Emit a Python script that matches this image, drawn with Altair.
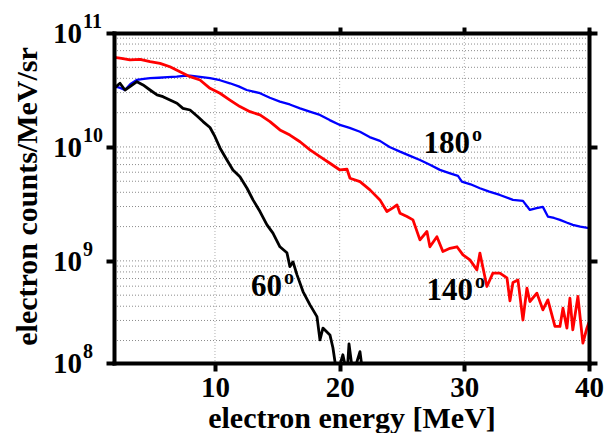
import altair as alt
import pandas as pd

# ---------------- data ----------------
E_180 = [1.95, 2.4, 2.78, 3.2, 3.72, 4.3, 4.79, 5.5, 6.2, 6.93, 7.5, 8.0, 8.8, 9.6, 10.4,
         11.2, 11.9, 12.54, 13.61, 14.4, 15.21, 16.0, 16.82, 17.6, 18.42, 19.2, 20.02,
         20.8, 21.63, 22.4, 23.23, 24.0, 24.84, 25.6, 26.44, 27.2, 28.04, 28.8, 29.49,
         29.8, 30.5, 31.25, 32.0, 32.85, 33.9, 34.7, 35.26, 35.8, 36.3, 36.7, 37.2,
         37.67, 38.2, 38.7, 39.3, 40.0]
C_180 = [3.40e10, 3.30e10, 3.16e10, 3.55e10, 3.87e10, 3.95e10, 4.01e10, 4.05e10, 4.10e10,
         4.14e10, 4.20e10, 4.22e10, 4.12e10, 4.01e10, 3.85e10, 3.62e10, 3.40e10, 3.16e10,
         2.96e10, 2.70e10, 2.50e10, 2.36e10, 2.18e10, 2.04e10, 1.91e10, 1.72e10, 1.56e10,
         1.47e10, 1.36e10, 1.22e10, 1.13e10, 1.00e10, 9.10e9, 8.40e9, 7.69e9, 7.00e9,
         6.29e9, 5.90e9, 5.57e9, 4.96e9, 4.70e9, 4.34e9, 4.05e9, 3.79e9, 3.43e9, 3.36e9,
         2.80e9, 2.90e9, 2.98e9, 2.45e9, 2.38e9, 2.29e9, 2.17e9, 2.07e9, 2.00e9, 1.94e9]

E_140 = [1.95, 2.5, 3.18, 3.99, 4.79, 5.59, 6.39, 7.19, 8.0, 8.8, 9.6, 10.4, 11.2, 12.0,
         12.81, 13.61, 14.41, 15.21, 16.01, 16.82, 17.62, 18.42, 19.22, 20.02, 20.59,
         20.83, 21.63, 22.43, 23.23, 23.79, 24.27, 24.6, 24.84, 25.4, 25.88, 26.44, 27.0,
         27.24, 27.8, 28.28, 28.85, 29.41, 29.89, 30.45, 31.01, 31.25, 31.81, 32.29,
         32.85, 33.42, 33.66, 33.9, 34.3, 34.7, 35.02, 35.26, 35.82, 36.3, 36.7, 37.27,
         37.67, 37.91, 38.23, 38.47, 38.7, 39.11, 39.51, 39.83, 40.0]
C_140 = [6.10e10, 6.00e10, 5.80e10, 5.88e10, 5.60e10, 5.42e10, 5.06e10, 4.58e10, 4.14e10,
         3.87e10, 3.27e10, 2.96e10, 2.58e10, 2.26e10, 2.04e10, 1.91e10, 1.67e10, 1.41e10,
         1.27e10, 1.11e10, 9.41e9, 8.22e9, 7.19e9, 6.28e9, 6.37e9, 5.31e9, 4.96e9, 4.20e9,
         3.43e9, 2.71e9, 2.92e9, 3.10e9, 2.62e9, 2.45e9, 2.29e9, 1.53e9, 1.81e9, 1.33e9,
         1.63e9, 1.21e9, 1.29e9, 1.33e9, 1.13e9, 1.02e9, 8.34e8, 1.17e9, 5.96e8, 7.80e8,
         7.80e8, 7.10e8, 4.46e8, 6.47e8, 6.81e8, 3.03e8, 5.77e8, 4.40e8, 5.21e8, 3.72e8,
         4.55e8, 2.66e8, 2.66e8, 3.85e8, 2.57e8, 4.71e8, 2.48e8, 4.87e8, 1.90e8, 2.57e8,
         2.90e8]

E_60 = [1.95, 2.38, 2.78, 3.18, 3.74, 4.23, 4.79, 5.35, 5.83, 6.39, 6.95, 7.43, 8.0,
        8.56, 9.04, 9.6, 10.0, 10.4, 10.96, 11.44, 12.0, 12.57, 13.05, 13.61, 14.17,
        14.65, 15.21, 15.77, 16.01, 16.26, 16.58, 17.06, 17.62, 18.18, 18.42, 18.66,
        19.22, 19.46, 19.78, 20.26, 20.59, 20.75, 21.07, 21.63, 21.87, 22.5]
C_60 = [3.30e10, 3.62e10, 3.16e10, 3.38e10, 3.74e10, 3.50e10, 3.16e10, 2.86e10, 2.76e10,
        2.58e10, 2.42e10, 2.18e10, 2.11e10, 1.87e10, 1.67e10, 1.48e10, 1.23e10, 9.80e9,
        7.69e9, 6.28e9, 5.48e9, 4.34e9, 3.43e9, 2.71e9, 2.07e9, 1.75e9, 1.33e9, 1.18e9,
        8.91e8, 9.80e8, 7.54e8, 5.38e8, 4.11e8, 3.24e8, 2.03e8, 2.57e8, 2.24e8, 1.73e8,
        1.00e8, 1.50e8, 1.00e8, 1.87e8, 1.00e8, 1.60e8, 1.00e8, 1.00e8]

Y_TICKS = [1.27e8, 1e9, 1e10, 1e11]
Y_BASE = ["10", "10", "10", "10"]
Y_EXP = ["8", "9", "10", "11"]
X_TICKS = [10, 20, 30, 40]
X_GRID = [10, 20, 30]
Y_GRID = [m * 10 ** d for d in (8, 9, 10) for m in range(1, 10) if m * 10 ** d > 1.3e8]

ANN_TEXT = ["180", "140", "60"]
ANN_E = [30.45, 30.69, 15.37]
ANN_C = [1.06e10, 5.46e8, 5.92e8]

# ---------------- chart ----------------
FONT = "Liberation Serif"
W, H = 475, 330

xscale = alt.Scale(domain=[1.9, 40], nice=False, zero=False)
yscale = alt.Scale(type="log", domain=[1.27e8, 1e11], nice=False)

common = dict(tickColor="black", tickWidth=4, domainColor="black", domainWidth=4,
              domainCap="square", grid=False, zindex=1)

xaxis = alt.Axis(title="electron energy [MeV]", values=X_TICKS, tickSize=8,
                 labelFont=FONT, labelFontWeight="bold", labelFontSize=29,
                 labelColor="black", labelBaseline="alphabetic", labelPadding=25,
                 labelFlush=False,
                 titleFont=FONT, titleFontWeight="bold", titleFontSize=30,
                 titleColor="black", titleBaseline="alphabetic", titleY=64, **common)
yaxis = alt.Axis(title="electron counts/MeV/sr", values=Y_TICKS, labels=False, tickSize=8,
                 titleFont=FONT, titleFontWeight="bold", titleFontSize=30,
                 titleColor="black", titleBaseline="alphabetic", titleX=-78, titleY=163,
                 titleAngle=270, titleAlign="center", **common)


def X(field):
    return alt.X(field, type="quantitative", scale=xscale, axis=xaxis)


def Y(field):
    return alt.Y(field, type="quantitative", scale=yscale, axis=yaxis)


hgrid = alt.Chart(pd.DataFrame({"g": Y_GRID})).mark_rule(
    color="#8c8c8c", strokeWidth=1, strokeDash=[1, 2]).encode(y=Y("g"))
vgrid = alt.Chart(pd.DataFrame({"g": X_GRID})).mark_rule(
    color="#b0b0b0", strokeWidth=1, strokeDash=[1, 2]).encode(x=X("g"))


def line(E, C, color, width):
    df = pd.DataFrame({"E": E, "C": C})
    return alt.Chart(df).mark_line(clip=True, color=color, strokeWidth=width,
                                   strokeJoin="round").encode(x=X("E"), y=Y("C"))


l180 = line(E_180, C_180, "#0000ff", 2.3)
l140 = line(E_140, C_140, "#ff0000", 2.8)
l60 = line(E_60, C_60, "#000000", 2.8)

ylab = pd.DataFrame({"v": Y_TICKS, "b": Y_BASE, "e": Y_EXP})
ybase = alt.Chart(ylab).mark_text(align="right", baseline="middle", font=FONT,
                                  fontWeight="bold", fontSize=29, color="black", dy=1
                                  ).encode(y=Y("v"), x=alt.value(-32), text="b:N")
yexp = alt.Chart(ylab).mark_text(align="left", baseline="middle", font=FONT,
                                 fontWeight="bold", fontSize=20, color="black", dy=-11
                                 ).encode(y=Y("v"), x=alt.value(-31), text="e:N")

ann = pd.DataFrame({"t": ANN_TEXT, "E": ANN_E, "C": ANN_C, "o": ["o"] * 3})
annnum = alt.Chart(ann).mark_text(align="right", baseline="middle", font=FONT,
                                  fontWeight="bold", fontSize=31, color="black"
                                  ).encode(x=X("E"), y=Y("C"), text="t:N")
anndeg = alt.Chart(ann).mark_text(align="left", baseline="middle", font=FONT,
                                  fontWeight="bold", fontSize=20, color="black",
                                  dx=2, dy=-9).encode(x=X("E"), y=Y("C"), text="o:N")

inner = alt.layer(hgrid, vgrid, l180, l140, l60, ybase, yexp, annnum, anndeg)

tickdf = pd.DataFrame({"tx": X_TICKS, "ty": Y_TICKS})
frame = alt.Chart(tickdf).mark_point(opacity=0).encode(
    x=alt.X("tx:Q", scale=xscale,
            axis=alt.Axis(orient="top", values=X_TICKS, labels=False, title=None,
                          tickSize=6, **common)),
    y=alt.Y("ty:Q", scale=yscale,
            axis=alt.Axis(orient="right", values=Y_TICKS, labels=False, title=None,
                          tickSize=8, **common)),
)

chart = alt.layer(inner, frame).resolve_scale(x="independent", y="independent").properties(
    width=W, height=H, autosize=alt.AutoSizeParams(type="none"),
    padding={"left": 114, "top": 33, "right": 18, "bottom": 70},
    background="white",
).configure_view(stroke=None)

chart.save("out.html", embed_options={"renderer": "svg", "actions": False})
